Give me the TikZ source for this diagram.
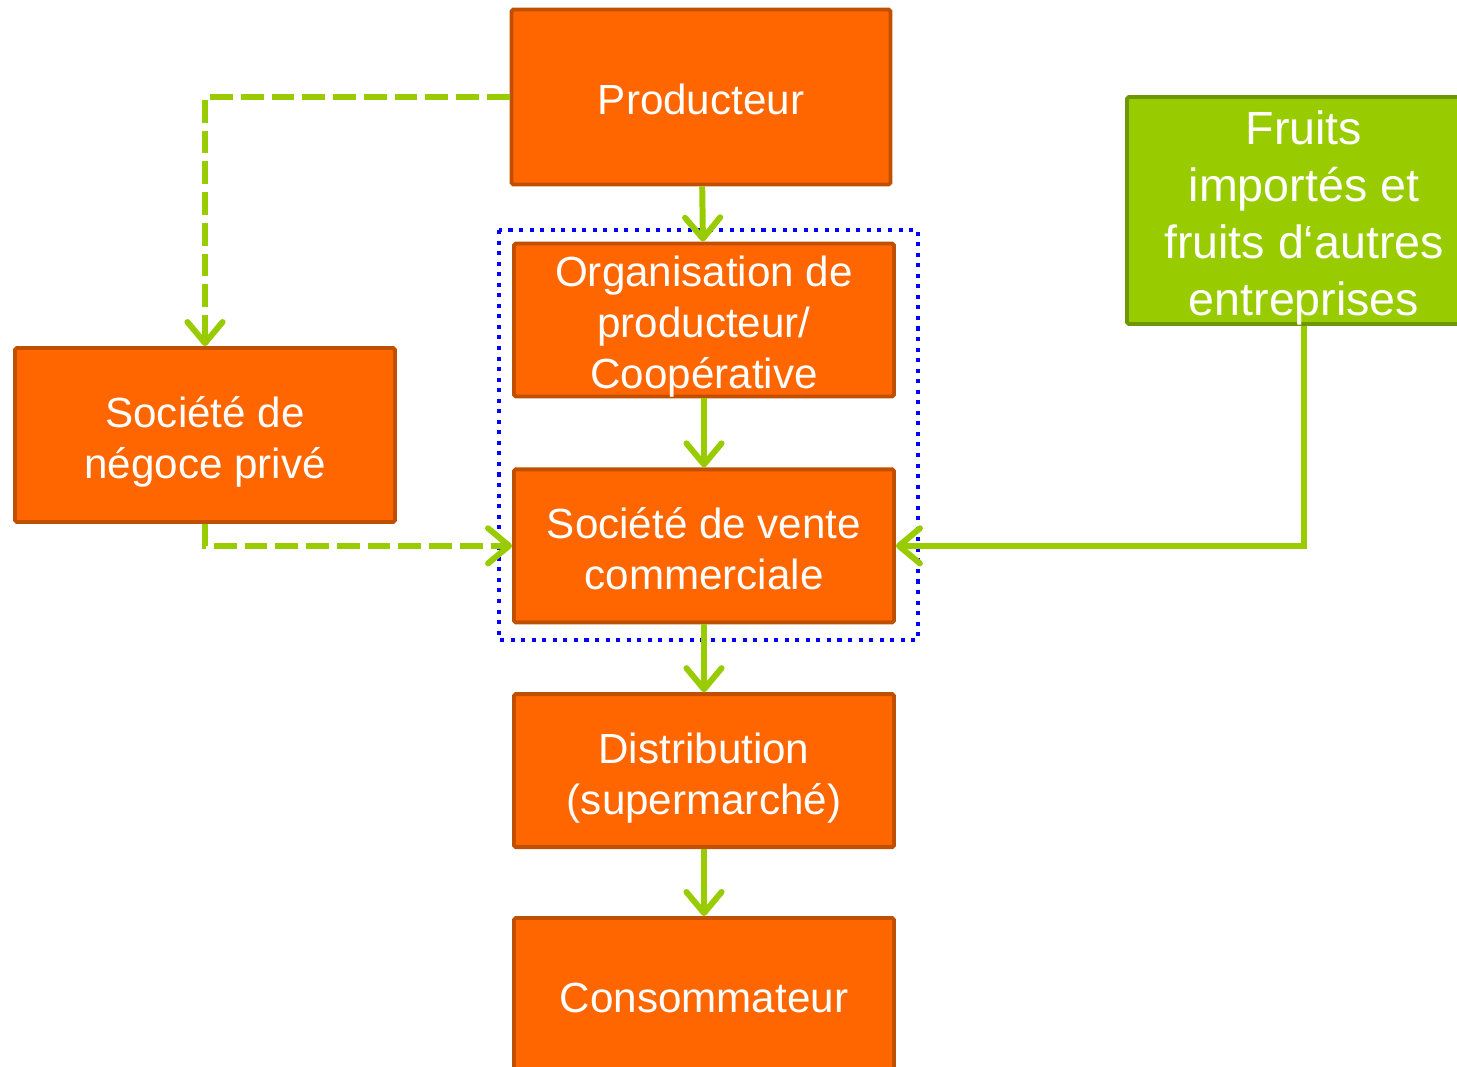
\documentclass[tikz,border=0pt]{standalone}
\usepackage{fontspec}
\setmainfont{Liberation Sans}
\usetikzlibrary{positioning,arrows.meta}
\definecolor{boxorange}{HTML}{FF6600}
\definecolor{boxedge}{HTML}{C04F00}
\definecolor{leafgreen}{HTML}{99CC00}
\definecolor{leafedge}{HTML}{6E9600}
\definecolor{groupblue}{HTML}{0000FF}
\newcommand{\topstrut}{\rule{0pt}{1.16em}}
\newcommand{\botstrut}{\rule[-0.31em]{0pt}{0.31em}}

\begin{document}
\begin{tikzpicture}[x=0.02cm,y=-0.02cm,
		stage/.style={draw=boxedge,fill=boxorange,line width=2.2pt,rounded corners=1pt,
			minimum width=7.6cm,minimum height=3.06cm,inner xsep=0pt,inner ysep=-10pt,align=center,
			text=white,font=\fontsize{24}{29}\selectfont,
			execute at begin node=\topstrut,execute at end node=\botstrut},
		flow/.style={draw=leafgreen,line width=3.4pt,-{Straight Barb[length=12pt,width=20pt,round]}},
		side/.style={flow,dash pattern=on 13pt off 4.5pt}]
	\useasboundingbox (0,0) rectangle (1457,1066);
	%
	\node[stage,minimum width=7.58cm,minimum height=3.5cm] (prod) at (701,97) {Producteur};
	\node[stage] (orga) at (704,320) {\topstrut Organisation de\\producteur/\\Coopérative};
	\node[stage,below=1.38cm of orga] (vente) {\topstrut Société de vente\\commerciale};
	\node[stage,below=1.36cm of vente] (distrib) {\topstrut Distribution\\(supermarché)};
	\node[stage,below=1.34cm of distrib] (conso) {Consommateur};
	\node[stage,minimum height=3.48cm] (negoce) at (205,435) {\topstrut Société de\\négoce privé};
	\node[stage,draw=leafedge,fill=leafgreen,minimum width=7.08cm,minimum height=4.54cm,
		font=\fontsize{26.5}{32.5}\selectfont] (fruits) at (1304,210.5)
		{\topstrut Fruits\\importés et\\fruits d‘autres\\entreprises};
	%
	\draw[groupblue,line width=2.3pt,dash pattern=on 2.3pt off 3.7pt] (499,230) rectangle (918,640);
	%
	\draw[flow] (prod) -- (orga);
	\draw[flow] (orga) -- (vente);
	\draw[flow] (vente) -- (distrib);
	\draw[flow] (distrib) -- (conso);
	\draw[side] (prod.west) -| (negoce.north);
	\draw[side] (negoce.south) |- (vente.west);
	\draw[flow] (fruits.south) |- (vente.east);
\end{tikzpicture}
\end{document}
